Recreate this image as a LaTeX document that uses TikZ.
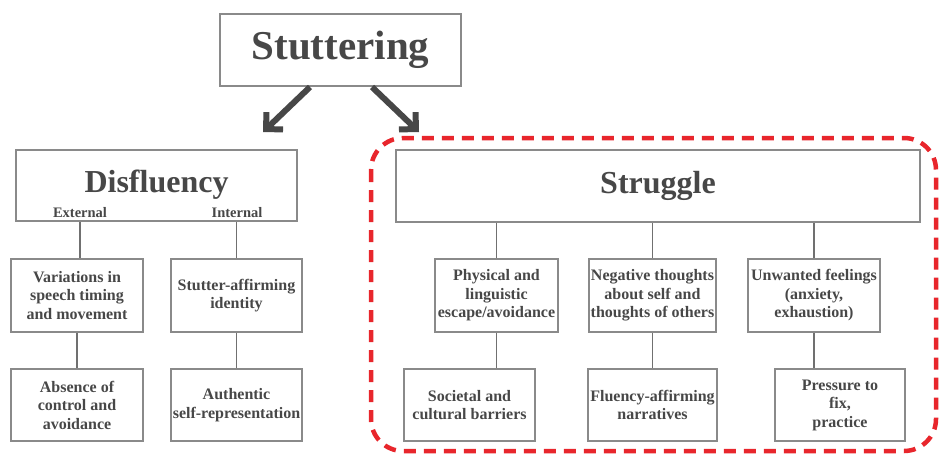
\documentclass[tikz,border=0pt]{standalone}
\usepackage{fontspec}
\setmainfont{Liberation Serif}
\usetikzlibrary{arrows.meta}
\definecolor{txt}{HTML}{474747}
\definecolor{bord}{HTML}{8A8A8A}
\definecolor{conn}{HTML}{707070}
\definecolor{redd}{HTML}{E8262C}
\tikzset{
  box/.style={draw=bord, line width=1.6pt, text=txt, align=center, inner sep=2pt,
    font=\fontsize{16}{18.5}\selectfont\bfseries},
  bigbox/.style={draw=bord, line width=1.6pt, text=txt, inner sep=0pt},
  connline/.style={draw=conn, line width=1.6pt},
  bigarrow/.style={draw=txt, line width=6pt, -{Straight Barb[length=12pt,width=24pt,line width=6pt,line join=miter]}},
  smalllabel/.style={text=txt, font=\fontsize{14.5}{16}\selectfont\bfseries, inner sep=0pt}
}
\begin{document}
\begin{tikzpicture}[x=1pt,y=-1pt]
\useasboundingbox (0,0) rectangle (939,453);
% top
\node[bigbox, minimum width=241pt, minimum height=72pt, font=\fontsize{41}{44}\selectfont\bfseries] (stut) at (340.5,50) {Stuttering};
% Disfluency
\node[bigbox, minimum width=281pt, minimum height=71pt] (dis) at (156.5,185.5) {};
\node[text=txt, font=\fontsize{32}{34}\selectfont\bfseries, inner sep=0pt] (distxt) at (156.5,185) {Disfluency};
\node[smalllabel] (ext) at (80,213) {External};
\node[smalllabel] (int) at (237,213) {Internal};
\node[box, minimum width=132pt, minimum height=73pt] (var) at (77,295.5) {Variations in\\speech timing\\and movement};
\node[box, minimum width=131pt, minimum height=73pt] (stt) at (236.5,295.5) {Stutter-affirming\\identity};
\node[box, minimum width=132pt, minimum height=72pt] (abs) at (77,405) {Absence of\\control and\\avoidance};
\node[box, minimum width=131pt, minimum height=72pt] (auth) at (236.5,405) {Authentic\\self-representation};
% Struggle
\node[bigbox, minimum width=524pt, minimum height=72pt, font=\fontsize{32}{34}\selectfont\bfseries] (str) at (658,186) {Struggle};
\node[box, minimum width=123pt, minimum height=73pt] (phys) at (496.5,295.5) {Physical and\\linguistic\\escape/avoidance};
\node[box, minimum width=127pt, minimum height=73pt] (neg) at (652.5,295.5) {Negative thoughts\\about self and\\thoughts of others};
\node[box, minimum width=132pt, minimum height=73pt] (unw) at (814,295.5) {Unwanted feelings\\(anxiety,\\exhaustion)};
\node[box, minimum width=131pt, minimum height=72pt] (soc) at (469.5,405) {Societal and\\cultural barriers};
\node[box, minimum width=127pt, minimum height=72pt] (flu) at (652.5,405) {Fluency-affirming\\narratives};
\node[box, minimum width=130pt, minimum height=72pt] (pre) at (840,405) {Pressure to\\fix,\\practice};
% connectors
\draw[connline] (var.north -| ext) -- (ext.south |- dis.south);
\draw[connline] (stt.north) -- (stt.north |- dis.south);
\draw[connline] (var.south) -- (var.south |- abs.north);
\draw[connline] (stt.south) -- (stt.south |- auth.north);
\draw[connline] (phys.north) -- (phys.north |- str.south);
\draw[connline] (neg.north) -- (neg.north |- str.south);
\draw[connline] (unw.north) -- (unw.north |- str.south);
\draw[connline] (phys.south) -- (phys.south |- soc.north);
\draw[connline] (neg.south) -- (neg.south |- flu.north);
\draw[connline] (unw.south) -- (unw.south |- pre.north);
% big arrows
\coordinate (a1s) at (310,87);
\coordinate (a1e) at (263,132);
\coordinate (a2s) at (372,87);
\coordinate (a2e) at (419,132);
\draw[bigarrow] (a1s) -- (a1e);
\draw[bigarrow] (a2s) -- (a2e);
% red dashed region
\draw[redd, line width=4.5pt, dash pattern=on 12pt off 8pt, rounded corners=32pt] (371,138) rectangle (936,451);
\end{tikzpicture}
\end{document}
